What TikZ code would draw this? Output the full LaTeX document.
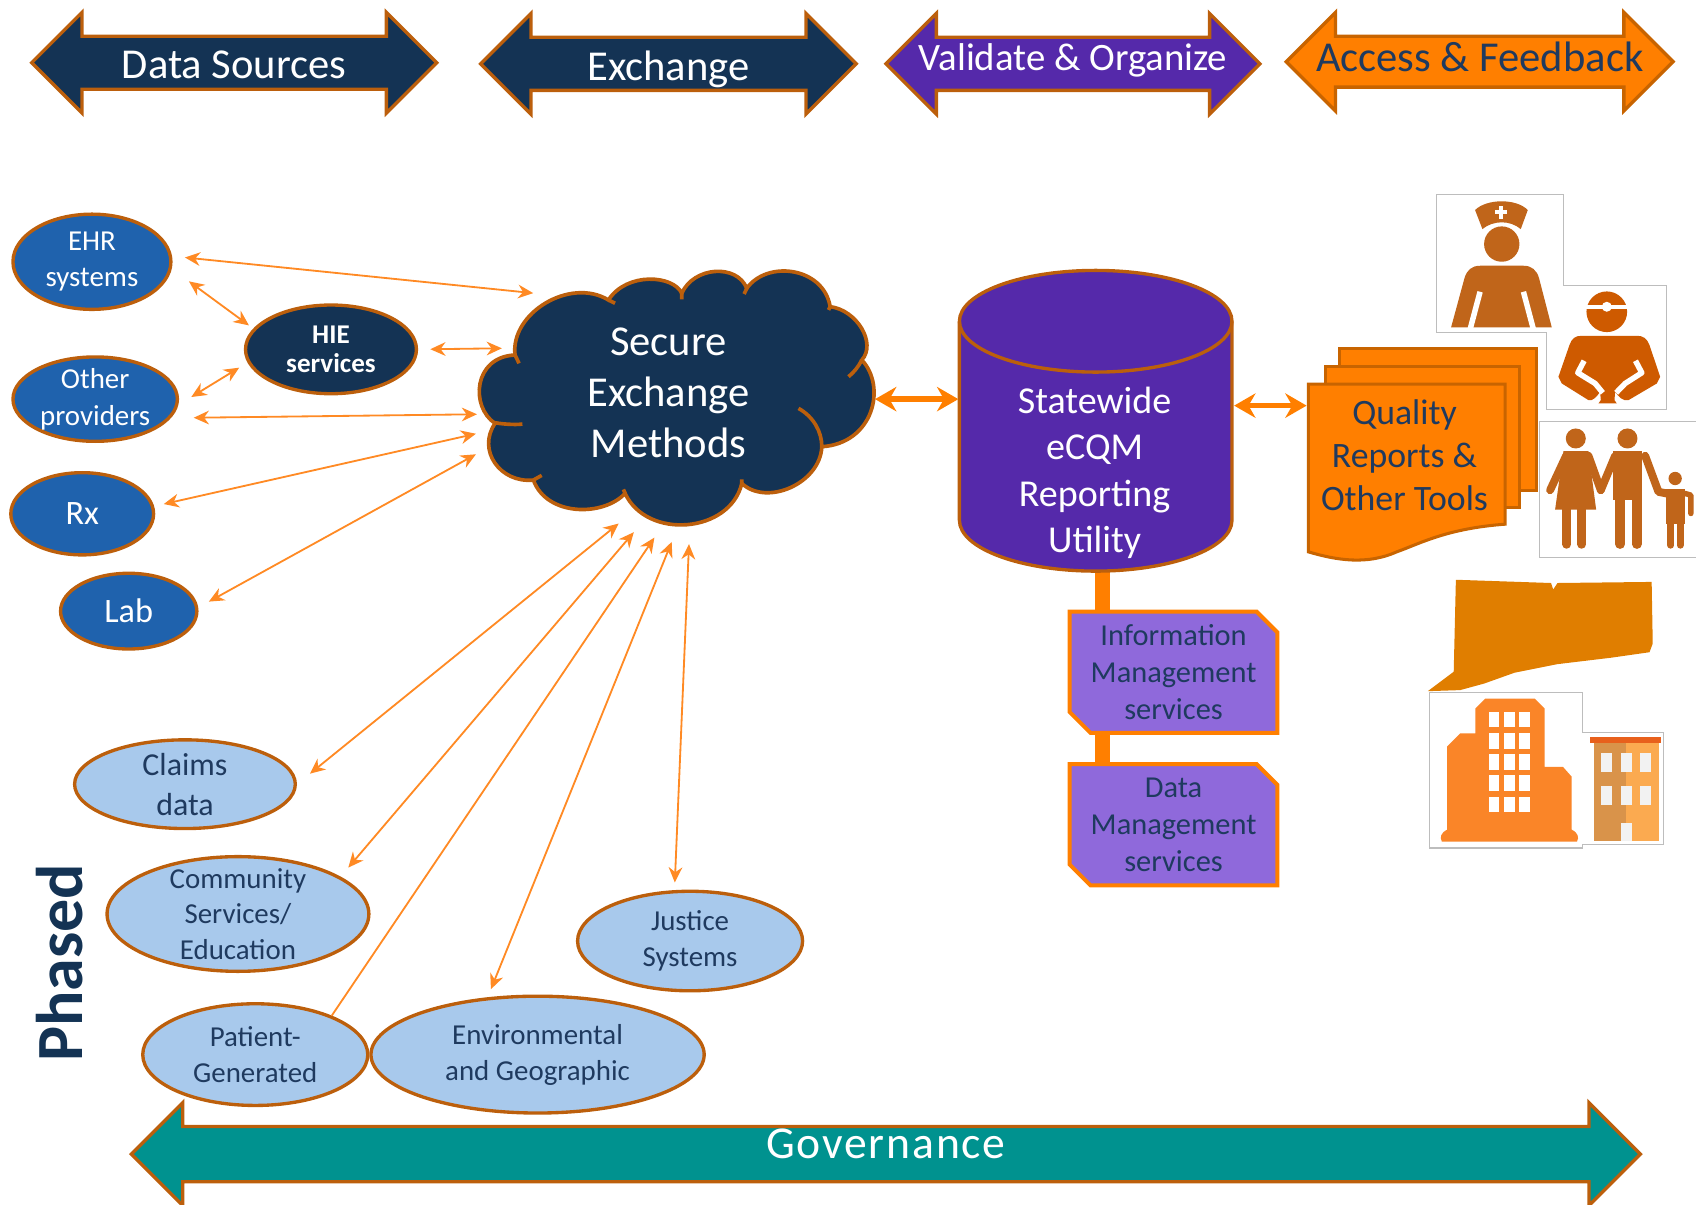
\documentclass[tikz,border=0pt]{standalone}
\usepackage{fontspec}
\setmainfont{Carlito}
\usepackage[dvipsnames]{xcolor}
\usetikzlibrary{arrows.meta,shapes.arrows,shapes.geometric,shapes.misc}
\definecolor{navyfill}{HTML}{143354}
\definecolor{rustline}{HTML}{BC5F0C}
\definecolor{purplefill}{HTML}{5529AA}
\definecolor{orangefill}{HTML}{FF7F00}
\definecolor{orangeline}{HTML}{C86400}
\definecolor{tealfill}{HTML}{00928F}
\definecolor{bluefill}{HTML}{1F62AD}
\definecolor{paleblue}{HTML}{A8C9EC}
\definecolor{lilac}{HTML}{8F69DB}
\definecolor{inktext}{HTML}{1F3A5F}
\definecolor{wire}{HTML}{FF8A24}
\definecolor{iconbrown}{HTML}{C0651A}
\definecolor{icondark}{HTML}{CE5A00}
\definecolor{statefill}{HTML}{E07E00}
\definecolor{towerfill}{HTML}{FA8528}
\definecolor{iconframe}{HTML}{BDBDBD}
\definecolor{brickdark}{HTML}{D9934A}
\definecolor{bricklight}{HTML}{FBAA50}
\definecolor{brickroof}{HTML}{E8601C}

\begin{document}
\begin{tikzpicture}[x=0.025cm,y=-0.025cm,>={Stealth[length=10pt,width=9pt]},
    headarrow/.style={double arrow,double arrow head extend=0.55cm,minimum width=2.2cm,inner sep=0pt,draw=rustline,line width=2.2pt,font=\fontsize{28}{32}\selectfont},
    srcnode/.style={ellipse,inner sep=-15pt,align=center,fill=bluefill,draw=rustline,line width=2.2pt,text=white,font=\fontsize{19}{24}\selectfont},
    phasenode/.style={ellipse,inner sep=-15pt,align=center,fill=paleblue,draw=rustline,line width=2.2pt,text=inktext,font=\fontsize{19}{23.5}\selectfont},
    svcnode/.style={chamfered rectangle,chamfered rectangle corners={north east,south west},chamfered rectangle sep=0.24cm,inner sep=0pt,minimum width=4.8cm,align=center,fill=lilac,draw=orangefill,line width=2.6pt,text=inktext,font=\fontsize{20}{24.5}\selectfont},
    wirelink/.style={<->,draw=wire,line width=1.2pt},
    fatlink/.style={<->,draw=orangefill,line width=3.5pt,>={Stealth[length=14pt,width=16pt]}},
    stem/.style={draw=orangefill,line width=10pt},
    page/.style={fill=orangefill,draw=orangeline,line width=2pt},
    frame/.style={fill=white,draw=iconframe,line width=0.7pt},
    zoomed/.style={shift={#1},x=0.007705cm,y=-0.007705cm},
    limb/.style={line width=#1,line cap=round,line join=round}]
    \useasboundingbox (0,0) rectangle (1568,1114);

    \node (datasrc) [headarrow,fill=navyfill,text=white,minimum height=9.36cm,text height=26.75pt,text depth=5.95pt] at (216.5,58) {Data Sources};
    \node (exch) [headarrow,fill=navyfill,text=white,minimum height=8.68cm,text height=27.35pt,text depth=5.35pt] at (618,59) {Exchange};
    \node (valid) [headarrow,fill=purplefill,text=white,minimum height=8.64cm,text height=20.85pt,text depth=11.85pt,font=\fontsize{25.5}{28}\selectfont] at (992,59) {Validate \& Organize};
    \node (access) [headarrow,fill=orangefill,draw=orangeline,text=inktext,minimum height=8.94cm,minimum width=2.05cm,text height=22.25pt,text depth=9.05pt,font=\fontsize{28}{30}\selectfont] at (1368,57) {Access \& Feedback};
    \node (gov) [headarrow,fill=tealfill,text=white,minimum height=34.87cm,text height=20.25pt,text depth=13.85pt,font=\fontsize{30}{32}\selectfont] at (819,1067) {\addfontfeature{LetterSpace=4}Governance};

    \begin{scope}[zoomed={(425.3,231.1)}]
        \draw[fill=navyfill,draw=rustline,line width=2.4pt]
            (165,315) .. controls (150,190) and (330,80) .. (445,150)
            .. controls (500,65) and (640,75) .. (665,130)
            .. controls (700,50) and (830,40) .. (860,115)
            .. controls (920,30) and (1090,50) .. (1110,170)
            .. controls (1190,180) and (1250,280) .. (1205,330)
            .. controls (1280,410) and (1240,580) .. (1085,590)
            .. controls (1080,700) and (920,770) .. (845,700)
            .. controls (810,850) and (560,870) .. (495,730)
            .. controls (430,800) and (260,800) .. (220,690)
            .. controls (120,700) and (50,600) .. (105,520)
            .. controls (30,470) and (40,320) .. (165,315) -- cycle;
        \draw[draw=rustline,line width=2.4pt]
            (1165,380) .. controls (1180,368) and (1195,350) .. (1205,330)
            (1015,475) .. controls (1060,500) and (1085,545) .. (1085,590)
            (105,518) .. controls (125,522) and (165,525) .. (187,522)
            (165,315) -- (177,340)
            (445,150) -- (465,160)
            (665,130) -- (665,148)
            (860,115) -- (852,132)
            (1110,170) -- (1105,180)
            (845,700) -- (845,688)
            (495,730) -- (490,718)
            (220,690) -- (245,676);
    \end{scope}
    \node (cloud) [align=center,text=white,font=\fontsize{28}{33.5}\selectfont] at (618,363) {Secure\\Exchange\\Methods};

    \node (ehr) [srcnode,minimum width=3.65cm,minimum height=2.2cm] at (85,242) {EHR\\systems};
    \node (hie) [srcnode,minimum width=3.95cm,minimum height=2.05cm,font=\fontsize{17.8}{19}\selectfont\bfseries,fill=navyfill] at (306,323) {HIE\\services};
    \node (other) [srcnode,minimum width=3.8cm,minimum height=1.95cm] at (88,369) {Other\\providers};
    \node (rx) [srcnode,minimum width=3.3cm,minimum height=1.9cm,font=\fontsize{22.5}{24}\selectfont] at (76,475) {Rx};
    \node (lab) [srcnode,minimum width=3.15cm,minimum height=1.75cm,font=\fontsize{22.5}{24}\selectfont] at (119,565) {Lab};

    \node (claims) [phasenode,minimum width=5.1cm,minimum height=2.05cm,font=\fontsize{21}{26.5}\selectfont] at (171,725) {Claims\\data};
    \node (comm) [phasenode,minimum width=6.05cm,minimum height=2.65cm] at (220,845) {Community\\Services/\\Education};
    \node (patient) [phasenode,minimum width=5.2cm,minimum height=2.35cm] at (236,975) {Patient-\\Generated};
    \node (envir) [phasenode,minimum width=7.7cm,minimum height=2.7cm] at (497,975) {Environmental\\and Geographic};
    \node (justice) [phasenode,minimum width=5.2cm,minimum height=2.3cm] at (638,870) {Justice\\Systems};
    \node (phased) [rotate=90,text=navyfill,font=\fontsize{43.4}{46}\selectfont\bfseries] at (55,890) {Phased};

    \coordinate (stemA) at (1019,526);
    \coordinate (stemB) at (1019,565);
    \coordinate (stemC) at (1019,678);
    \coordinate (stemD) at (1019,707);
    \draw[stem] (stemA) -- (stemB);
    \draw[stem] (stemC) -- (stemD);

    \draw[fill=purplefill,draw=rustline,line width=2.2pt] (887,297) -- (887,481) arc[x radius=126,y radius=47,start angle=180,end angle=0] -- (1139,297) arc[x radius=126,y radius=47,start angle=0,end angle=-180];
    \draw[draw=rustline,line width=2.2pt] (887,297) arc[x radius=126,y radius=47,start angle=180,end angle=0];
    \node (ecqm) [align=center,text=white,font=\fontsize{25}{30.6}\selectfont] at (1012,437) {Statewide\\eCQM\\Reporting\\Utility};

    \node (infosvc) [svcnode,minimum height=2.8cm] at (1085,621.5) {Information\\Management\\services};
    \node (datasvc) [svcnode,minimum height=2.8cm] at (1085,762.5) {Data\\Management\\services};

    \begin{scope}[zoomed={(1183.4,157.2)}]
        \draw[frame] (470,72) -- (850,72) -- (850,345) -- (1158,345) -- (1158,718) -- (800,718) -- (800,488) -- (470,488) -- cycle;
        \draw[frame] (778,755) -- (1300,755) -- (1300,1162) -- (778,1162) -- cycle;

        \fill[iconbrown] (585,120) .. controls (620,85) and (710,85) .. (743,120) -- (722,177) .. controls (690,150) and (640,150) .. (607,177) -- cycle;
        \draw[white,line width=2.6pt] (663,108) -- (663,146) (645,127) -- (681,127);
        \fill[iconbrown] (665,222) circle[radius=53];
        \fill[iconbrown] (513,472) -- (553,325) .. controls (560,300) and (575,287) .. (600,287) -- (730,287) .. controls (755,287) and (770,300) .. (777,325) -- (815,472) -- cycle;
        \draw[white,line width=3.6pt] (600,365) -- (570,478) (730,365) -- (760,478);

        \fill[icondark] (980,425) circle[radius=61];
        \fill[white] (915,405) rectangle (1045,416);
        \fill[white] (980,410) circle[radius=15];
        \fill[icondark] (835,620) -- (868,525) .. controls (875,505) and (885,497) .. (905,497) -- (1070,497) .. controls (1090,497) and (1100,505) .. (1108,525) -- (1140,620) -- (1130,640) -- (1045,690) .. controls (1030,695) and (1015,680) .. (1005,665) -- (1003,690) -- (1010,700) -- (955,700) -- (962,690) -- (960,665) .. controls (950,680) and (935,695) .. (925,690) -- (845,640) -- cycle;
        \draw[white,line width=3.6pt,line join=round] (912,572) -- (893,608) -- (945,640) -- (968,668) (1066,572) -- (1085,608) -- (1035,640) -- (1008,668);

        \fill[iconbrown] (887,805) circle[radius=30] (1042,805) circle[radius=30] (1185,925) circle[radius=20];
        \fill[iconbrown] (850,843) -- (925,843) -- (948,1018) -- (825,1018) -- cycle;
        \draw[iconbrown,limb=5.2pt] (858,857) -- (810,960) (925,857) -- (962,960);
        \draw[iconbrown,limb=6pt] (860,1015) -- (860,1122) (905,1015) -- (905,1122);
        \fill[iconbrown] (1000,843) -- (1085,843) -- (1085,990) -- (1000,990) -- cycle;
        \draw[iconbrown,limb=6.2pt] (1020,985) -- (1020,1122) (1070,985) -- (1070,1122);
        \draw[iconbrown,limb=5.2pt] (1005,857) -- (962,960) (1095,857) -- (1135,965) -- (1170,972);
        \fill[iconbrown] (1158,958) -- (1215,958) -- (1215,1060) -- (1158,1060) -- cycle;
        \draw[iconbrown,limb=4.6pt] (1172,1055) -- (1172,1125) (1200,1055) -- (1200,1125);
        \draw[iconbrown,limb=3.6pt] (1215,970) -- (1232,975) -- (1232,1030);

        \draw[page] (178,535) rectangle (770,960);
        \draw[page] (135,588) rectangle (718,1012);
        \draw[page] (85,642) -- (675,642) -- (675,1062) .. controls (500,1075) and (420,1120) .. (350,1145) .. controls (260,1185) and (170,1170) .. (85,1145) -- cycle;
    \end{scope}
    \node (quality) [align=center,text=inktext,font=\fontsize{23.5}{28.4}\selectfont] at (1298.5,421) {Quality\\Reports \&\\Other Tools};

    \fill[statefill] (1346,536) -- (1434,539) -- (1436,545) -- (1440,539) -- (1527,538) -- (1528,595) -- (1525,603) -- (1490,608) -- (1440,614) -- (1400,622) -- (1372,632) -- (1350,638) -- (1320,639) -- (1344,621) -- cycle;

    \draw[frame] (1322,640) -- (1463,640) -- (1463,677) -- (1538,677) -- (1538,781) -- (1463,781) -- (1463,784) -- (1322,784) -- cycle;
    \fill[towerfill] (1333,778) .. controls (1331,774) and (1332,770) .. (1338,767) -- (1338,690) -- (1350,678) -- (1364,678) -- (1364,655) -- (1373,646) -- (1419,646) -- (1428,655) -- (1428,709) -- (1445,709) -- (1453,718) -- (1453,767) .. controls (1459,770) and (1460,774) .. (1458,778) -- cycle;
    \foreach \winx in {1376.4,1390.8,1404.4}
        \foreach \winy in {658,677.5,697,716.6,736.6}
            \fill[white] (\winx,\winy) rectangle ++(9.7,14.5);
    \fill[brickdark] (1473.5,686.7) rectangle (1503.5,777.6);
    \fill[bricklight] (1503.5,686.7) rectangle (1533.4,777.6);
    \fill[brickroof] (1470.4,681.1) rectangle (1535.7,686.7);
    \foreach \winx in {1480,1498.4,1516.3}
        \foreach \winy in {696.6,726.8}
            \fill[white!90!gray] (\winx,\winy) rectangle ++(10.3,17);
    \fill[white!90!gray] (1498.4,760.7) rectangle (1508.5,777.6);

    \coordinate (cloudA) at (493,271);
    \coordinate (cloudB) at (464,322);
    \coordinate (cloudC) at (441,383);
    \coordinate (cloudD) at (440,401);
    \coordinate (cloudE) at (440,420);
    \coordinate (cloudF) at (572,484);
    \coordinate (cloudG) at (586,492);
    \coordinate (cloudH) at (605,497);
    \coordinate (cloudI) at (621,501);
    \coordinate (cloudJ) at (637,503);
    \coordinate (cloudK) at (809,369);
    \coordinate (cylL) at (886,369);
    \coordinate (cylR) at (1141,375);
    \coordinate (pageL) at (1208,375);

    \path[every edge/.append style={wirelink}]
        (ehr.4) edge[shorten <=8.5pt] (cloudA)
        (ehr.-5) edge[shorten <=14pt,shorten >=3.5pt] (hie.165)
        (other.-4) edge[shorten <=10pt,shorten >=6.4pt] (hie.189)
        (hie.east) edge[shorten <=8pt] (cloudB)
        (other.-14) edge[shorten <=15pt] (cloudC)
        (rx.6) edge[shorten <=6.5pt] (cloudD)
        (lab.3) edge[shorten <=8pt] (cloudE)
        (claims.0) edge[shorten <=11pt] (cloudF)
        (comm.20) edge[shorten <=7.8pt] (cloudG)
        (envir.131) edge[shorten <=5.7pt] (cloudI)
        (justice.107) edge[shorten <=5pt] (cloudJ)
        ;
    \draw[wirelink,<-] (cloudH) -- (patient.27);
    \draw[fatlink] (cloudK) -- (cylL);
    \draw[fatlink] (cylR) -- (pageL);
\end{tikzpicture}
\end{document}
